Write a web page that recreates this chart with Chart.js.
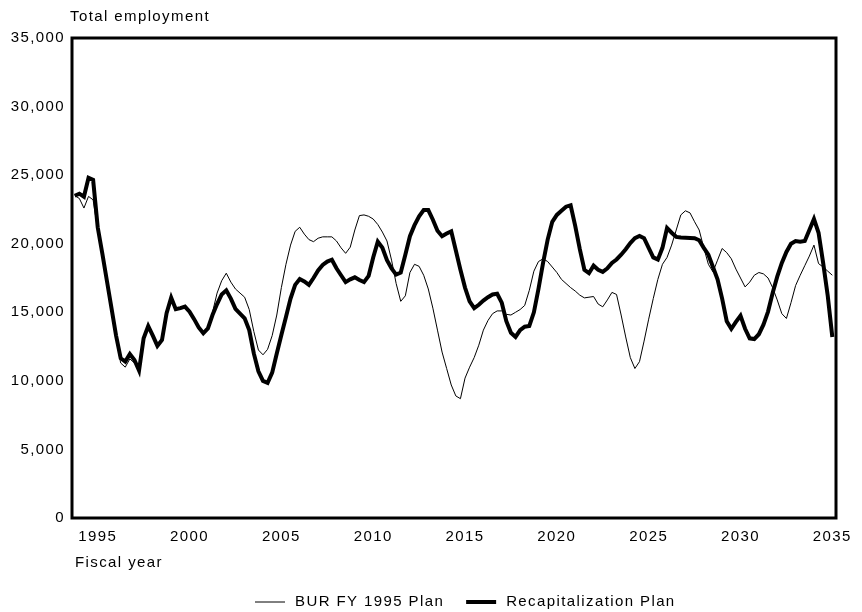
<!DOCTYPE html>
<html>
<head>
<meta charset="utf-8">
<title>Total employment</title>
<script src="https://cdn.jsdelivr.net/npm/chart.js@4.4.0/dist/chart.umd.min.js"></script>
<style>
  html, body { margin: 0; padding: 0; background: #fff; }
  #wrap { width: 862px; height: 612px; }
</style>
</head>
<body>
<div id="wrap"><canvas id="chart" width="862" height="612"></canvas></div>
<script>
// --- Data (quarterly, fiscal years) ---
const firstQuarter = 1993.75;
const tickYears = [1995, 2000, 2005, 2010, 2015, 2020, 2025, 2030, 2035];
const yTicks = [0, 5000, 10000, 15000, 20000, 25000, 30000, 35000];
const seriesNames = ['BUR FY 1995 Plan', 'Recapitalization Plan'];

const burPlan = [
  23500, 23300, 22600, 23450, 23200, 21000, 19100, 17100, 15100, 13100,
  11300, 11000, 11600, 11300, 10800, 13100, 14000, 13300, 12600, 13000,
  14900, 16000, 15300, 15300, 15400, 15000, 14500, 13900, 13500, 13900,
  15000, 16400, 17300, 17850, 17200, 16700, 16400, 16100, 15200, 13600,
  12250, 11900, 12300, 13300, 14800, 16800, 18500, 19900, 20900, 21200,
  20700, 20300, 20150, 20400, 20500, 20500, 20500, 20200, 19700, 19300,
  19750, 21000, 22050, 22100, 22000, 21800, 21400, 20850, 20200, 18800,
  17100, 15800, 16200, 17900, 18500, 18350, 17700, 16700, 15300, 13700,
  12100, 10900, 9700, 8900, 8700, 10200, 11000, 11700, 12600, 13700,
  14400, 14900, 15100, 15100, 14850, 14800, 15000, 15200, 15500, 16600,
  18000, 18700, 18900, 18700, 18300, 17900, 17400, 17100, 16800, 16550,
  16250, 16050, 16100, 16150, 15600, 15400, 15900, 16450, 16300, 14800,
  13200, 11700, 10900, 11400, 12900, 14500, 16000, 17400, 18500, 19000,
  19900, 21000, 22100, 22400, 22250, 21600, 21000, 19700, 18500, 17950,
  18800, 19650, 19350, 18900, 18150, 17500, 16850, 17200, 17700, 17900,
  17800, 17500, 16800, 15900, 14900, 14550, 15700, 16950, 17700, 18400,
  19100, 19900, 18550, 18300, 18000, 17700
];

const recapPlan = [
  23500, 23650, 23430, 24800, 24650, 21200, 19300, 17300, 15300, 13300,
  11650, 11400, 11950, 11520, 10750, 13100, 14000, 13300, 12550, 12980,
  14930, 16070, 15220, 15300, 15410, 15040, 14500, 13900, 13470, 13830,
  14800, 15600, 16300, 16600, 16000, 15250, 14900, 14560, 13700, 12000,
  10700, 10000, 9850, 10600, 12000, 13350, 14650, 16000, 17000, 17430,
  17250, 17000, 17500, 18050, 18450, 18700, 18830, 18210, 17700, 17200,
  17400, 17550, 17350, 17200, 17650, 19000, 20150, 19700, 18800, 18200,
  17750, 17900, 19200, 20550, 21350, 22000, 22450, 22450, 21750, 20950,
  20550, 20750, 20900, 19500, 18100, 16800, 15800, 15300, 15550, 15850,
  16100, 16300, 16350, 15700, 14350, 13500, 13200, 13700, 13950, 14000,
  15000, 16700, 18600, 20300, 21600, 22100, 22400, 22700, 22800, 21300,
  19600, 18100, 17850, 18400, 18100, 17950, 18200, 18600, 18850, 19200,
  19600, 20050, 20400, 20560, 20400, 19700, 19000, 18850, 19700, 21150,
  20800, 20500, 20450, 20440, 20420, 20400, 20250, 19700, 19200, 18300,
  17400, 16000, 14350, 13800, 14300, 14750, 13800, 13100, 13050, 13400,
  14100, 15050, 16400, 17600, 18600, 19400, 20000, 20200, 20150, 20200,
  21000, 21800, 20800, 18600, 16200, 13200
];

const FONT_FAMILY = "'Liberation Sans', Arial, sans-serif";
const FONT_SIZE = 15;
Chart.defaults.font.family = FONT_FAMILY;
Chart.defaults.font.size = FONT_SIZE;
Chart.defaults.color = '#000';

function toPoints(values) {
  return values.map((v, i) => ({ x: firstQuarter + i / 4, y: v }));
}

// Frame, axis titles and legend drawn straight onto the canvas
const framePlugin = {
  id: 'frame',
  beforeDraw(chart) {
    chart.ctx.letterSpacing = '1.4px';
  },
  afterDraw(chart) {
    const { ctx, chartArea: a } = chart;
    ctx.save();
    ctx.strokeStyle = '#000';
    ctx.lineWidth = 3;
    ctx.strokeRect(a.left, a.top, a.right - a.left, a.bottom - a.top);

    ctx.font = FONT_SIZE + 'px ' + FONT_FAMILY;
    ctx.fillStyle = '#000';
    ctx.textBaseline = 'middle';
    ctx.textAlign = 'left';
    ctx.fillText('Total employment', a.left - 2, 17);
    ctx.fillText('Fiscal year', a.left + 3, 563);

    // legend
    const widths = [1, 4];
    const legendY = 602;
    let x = 255;
    seriesNames.forEach((name, i) => {
      ctx.lineWidth = widths[i];
      ctx.beginPath();
      ctx.moveTo(x, legendY);
      ctx.lineTo(x + 30, legendY);
      ctx.stroke();
      x += 40;
      ctx.fillText(name, x, legendY);
      x += ctx.measureText(name).width + 22;
    });
    ctx.restore();
  }
};

new Chart(document.getElementById('chart').getContext('2d'), {
  type: 'line',
  data: {
    datasets: [
      {
        label: seriesNames[0],
        data: toPoints(burPlan),
        borderColor: '#000',
        borderWidth: 1,
        pointRadius: 0,
        fill: false,
        tension: 0,
        order: 2
      },
      {
        label: seriesNames[1],
        data: toPoints(recapPlan),
        borderColor: '#000',
        borderWidth: 4,
        pointRadius: 0,
        fill: false,
        tension: 0,
        order: 1
      }
    ]
  },
  options: {
    responsive: false,
    animation: false,
    layout: { padding: { top: 38, right: 26, left: 0, bottom: 0 } },
    plugins: {
      legend: { display: false },
      tooltip: { enabled: false }
    },
    scales: {
      x: {
        type: 'linear',
        min: 1993.6,
        max: 2035.2,
        grid: { display: false, drawTicks: false },
        border: { display: false },
        afterBuildTicks: scale => { scale.ticks = tickYears.map(v => ({ value: v })); },
        afterFit: scale => { scale.height = 94; },
        ticks: {
          autoSkip: false,
          maxRotation: 0,
          padding: 10,
          callback: v => String(v)
        }
      },
      y: {
        min: 0,
        max: 35000,
        grid: { display: false, drawTicks: false },
        border: { display: false },
        afterBuildTicks: scale => { scale.ticks = yTicks.map(v => ({ value: v })); },
        afterFit: scale => { scale.width = 72; },
        ticks: {
          padding: 7,
          callback: v => v.toLocaleString('en-US')
        }
      }
    }
  },
  plugins: [framePlugin]
});
</script>
</body>
</html>
